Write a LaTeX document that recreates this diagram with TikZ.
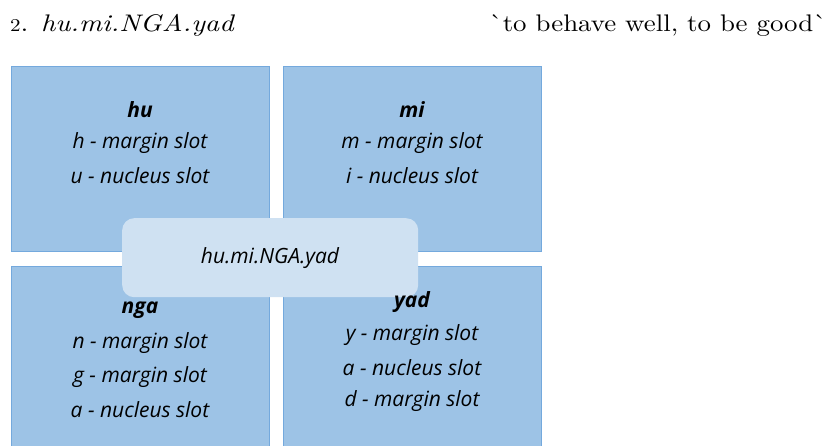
\documentclass[tikz,border=0pt]{standalone}
\usepackage{fontspec}
\newfontfamily\boxfont{Open Sans}
\newfontfamily\ttlfont[FakeStretch=1.17,ItalicFont=lmroman10-italic.otf,ItalicFeatures={FakeStretch=1.17}]{lmroman10-regular.otf}
\newfontfamily\glossfont[FakeStretch=1.12]{lmroman10-regular.otf}
\definecolor{boxfill}{HTML}{9DC3E6}
\definecolor{boxline}{HTML}{74A9DD}
\definecolor{midfill}{HTML}{CFE1F2}
\begin{document}
\begin{tikzpicture}[x=1pt,y=-1pt,
  cell/.style={draw=boxline,line width=1.2pt,fill=boxfill,anchor=north west,inner sep=0pt},
  mid/.style={fill=midfill,rounded corners=12pt,anchor=north west,inner sep=0pt,minimum width=296pt,minimum height=79pt},
  lbl/.style={font=\boxfont\itshape\fontsize{21}{24}\selectfont,inner sep=0pt,anchor=center},
  hd/.style={font=\boxfont\itshape\bfseries\fontsize{21}{24}\selectfont,inner sep=0pt,anchor=center},
  ttl/.style={inner sep=0pt,anchor=base west,font=\ttlfont\fontsize{24}{28}\selectfont},
  gls/.style={inner sep=0pt,anchor=base east,font=\glossfont\fontsize{24}{28}\selectfont}]
\useasboundingbox (0,0) rectangle (837,446);
\clip (0,0) rectangle (837,446);
\node[ttl] (title) at (10,32) {{\fontsize{18}{18}\selectfont 2}. \textit{hu.mi.NGA.yad}};
\node[gls] (gloss) at (827,32) {\char96 to behave well, to be good\char96};
\node[cell,minimum width=258pt,minimum height=185pt] (b1) at (11,66) {};
\node[cell,minimum width=258pt,minimum height=185pt] (b2) at (283,66) {};
\node[cell,minimum width=258pt,minimum height=200pt] (b3) at (11,266) {};
\node[cell,minimum width=258pt,minimum height=200pt] (b4) at (283,266) {};
\node[mid] (m) at (122,218) {};
\node[lbl] (mt) at (270,258) {hu.mi.NGA.yad};
\node[hd] (h1) at (140,110) {hu};
\node[lbl] (h1a) at (140,143) {h - margin slot};
\node[lbl] (h1b) at (140,176) {u - nucleus slot};
\node[hd] (h2) at (412,110) {mi};
\node[lbl] (h2a) at (412,143) {m - margin slot};
\node[lbl] (h2b) at (412,176) {i - nucleus slot};
\node[hd] (h3) at (140,310) {nga};
\node[lbl] (h3a) at (140,343) {n - margin slot};
\node[lbl] (h3b) at (140,377) {g - margin slot};
\node[lbl] (h3c) at (140,410) {a - nucleus slot};
\node[hd] (h4) at (412,302) {yad};
\node[lbl] (h4a) at (412,335) {y - margin slot};
\node[lbl] (h4b) at (412,368) {a - nucleus slot};
\node[lbl] (h4c) at (412,401) {d - margin slot};
\end{tikzpicture}
\end{document}
